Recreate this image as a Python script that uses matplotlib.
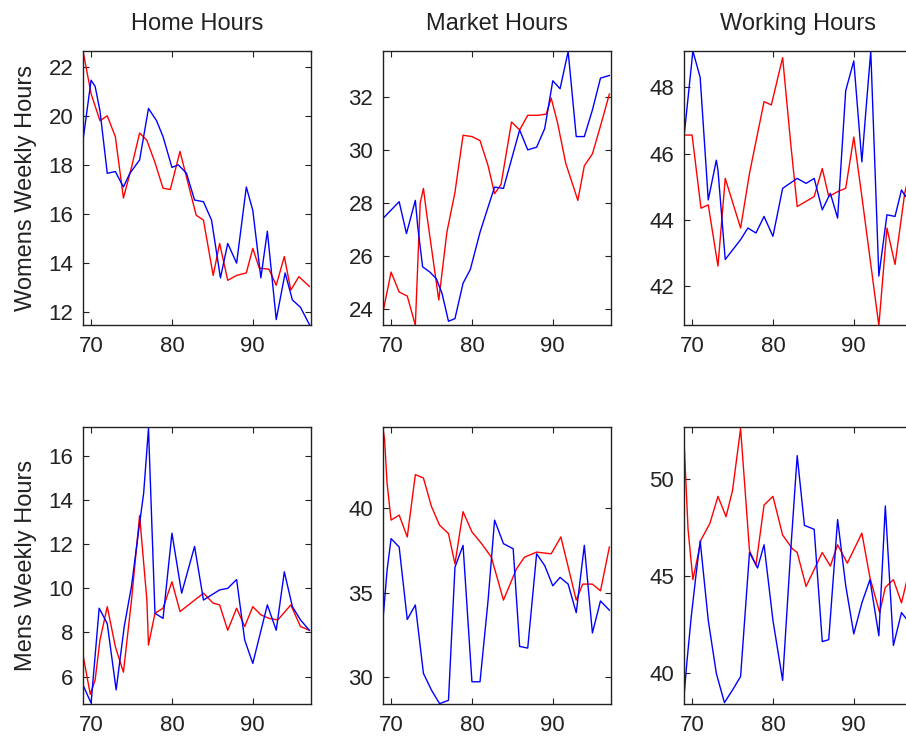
import matplotlib
matplotlib.use('Agg')
import matplotlib.pyplot as plt

plt.rcParams['font.family'] = ['Liberation Sans', 'DejaVu Sans']
plt.rcParams['font.size'] = 16

titles = ['Home Hours', 'Market Hours', 'Working Hours']
row_labels = ['Womens Weekly Hours', 'Mens Weekly Hours']

# women - home
w_home_red_x = [69, 70, 71.1, 72, 73, 74, 75, 76, 76.9, 77.9, 78.9, 79.8, 81, 81.8, 83, 83.9, 85.1, 85.9, 86.9, 88, 89.2, 90, 90.8, 92, 92.9, 93.9, 94.7, 95.7, 97]
w_home_red_y = [22.65, 20.9, 19.8, 20.0, 19.15, 16.65, 17.9, 19.3, 19.0, 18.1, 17.05, 17.0, 18.55, 17.5, 15.95, 15.75, 13.5, 14.8, 13.3, 13.5, 13.6, 14.6, 13.8, 13.75, 13.1, 14.27, 12.9, 13.45, 13.05]
w_home_blue_x = [69, 70, 70.5, 71.1, 72, 73, 74, 74.8, 76, 77.1, 78.1, 78.9, 80, 80.8, 81.8, 82.8, 83.9, 84.9, 86, 86.9, 88, 89.2, 90, 91, 91.8, 92.9, 94, 94.9, 95.9, 97]
w_home_blue_y = [19.0, 21.45, 21.2, 20.2, 17.66, 17.73, 17.1, 17.66, 18.2, 20.3, 19.8, 19.15, 17.9, 18.0, 17.66, 16.57, 16.5, 15.75, 13.4, 14.8, 14.0, 17.1, 16.15, 13.4, 15.3, 11.7, 13.6, 12.5, 12.2, 11.5]

# women - market
w_mkt_red_x = [69, 70, 71, 72, 73, 73.6, 74, 74.4, 75.9, 76.9, 77.9, 78.9, 80, 81, 82, 82.8, 83.6, 84.9, 85.9, 86.9, 88.2, 89.2, 89.8, 90.6, 91.6, 93.1, 93.9, 94.9, 95.9, 97]
w_mkt_red_y = [23.9, 25.4, 24.65, 24.5, 23.4, 28.0, 28.55, 27.6, 24.35, 26.9, 28.4, 30.55, 30.5, 30.35, 29.4, 28.35, 28.7, 31.05, 30.75, 31.3, 31.3, 31.35, 31.95, 31.0, 29.5, 28.1, 29.4, 29.85, 30.9, 32.1]
w_mkt_blue_x = [69, 71, 71.9, 73, 73.3, 73.9, 74.8, 75.6, 76.3, 77.1, 77.9, 78.9, 79.8, 81, 82, 82.8, 83.9, 85.9, 86.9, 88, 89, 90, 90.9, 91.9, 92.9, 93.9, 94.9, 95.9, 97]
w_mkt_blue_y = [27.42, 28.05, 26.85, 28.1, 27.1, 25.6, 25.4, 25.15, 24.6, 23.55, 23.65, 24.98, 25.5, 26.9, 27.85, 28.6, 28.55, 30.75, 30.0, 30.1, 30.8, 32.6, 32.3, 33.7, 30.5, 30.5, 31.5, 32.7, 32.8]

# women - working
w_work_red_x = [69, 70, 71.1, 72, 73.2, 74.1, 76, 77.1, 78.9, 79.8, 81.2, 82.2, 83, 85.1, 86.1, 86.9, 88, 89, 90, 91, 93.1, 94.1, 95.1, 96.3, 97]
w_work_red_y = [46.56, 46.56, 44.35, 44.45, 42.6, 45.25, 43.75, 45.4, 47.57, 47.47, 48.9, 46.3, 44.4, 44.7, 45.55, 44.7, 44.85, 44.95, 46.5, 44.7, 40.8, 43.75, 42.65, 44.8, 45.5]
w_work_blue_x = [69, 70.1, 71, 72, 73, 73.2, 74.1, 76, 76.9, 77.9, 78.9, 80, 81.2, 83, 84.1, 85.1, 86.1, 87.1, 88, 89, 90, 91, 91.4, 92.1, 93.1, 94.1, 95.1, 95.9, 96.4, 97]
w_work_blue_y = [46.5, 49.1, 48.3, 44.6, 45.8, 45.5, 42.8, 43.4, 43.75, 43.6, 44.1, 43.5, 44.95, 45.25, 45.1, 45.25, 44.3, 44.8, 44.05, 47.9, 48.8, 45.75, 47.0, 49.1, 42.3, 44.15, 44.1, 44.9, 44.7, 45.0]

# men - home
m_home_red_x = [69, 69.9, 70.5, 71.1, 72, 73, 74, 75, 76, 76.9, 77.1, 77.9, 78.9, 80, 81, 83.9, 85.1, 85.9, 86.9, 88, 89, 90, 91, 92, 93.1, 94.7, 95.9, 97]
m_home_red_y = [6.98, 5.2, 5.85, 7.66, 9.17, 7.36, 6.2, 9.47, 13.3, 9.47, 7.43, 8.87, 9.1, 10.3, 8.95, 9.78, 9.33, 9.25, 8.1, 9.1, 8.27, 9.17, 8.8, 8.64, 8.57, 9.25, 8.27, 8.1]
m_home_blue_x = [69, 70, 71, 72, 73.1, 74.1, 75, 76, 76.5, 77.1, 77.9, 78.9, 80, 81.2, 82.8, 83.9, 85.9, 86.9, 88, 89, 90, 91.8, 92.9, 93.9, 94.9, 95.9, 97]
m_home_blue_y = [5.62, 4.8, 9.1, 8.4, 5.4, 8.27, 10.1, 12.95, 14.3, 17.25, 8.87, 8.64, 12.5, 9.78, 11.9, 9.47, 9.93, 10.0, 10.4, 7.66, 6.6, 9.25, 8.1, 10.75, 9.17, 8.57, 8.1]

# men - market
m_mkt_red_x = [69, 69.2, 69.5, 70, 71, 72, 73, 74, 75, 76, 77.1, 77.9, 78.9, 80, 81.2, 82.4, 83.9, 85.5, 86.5, 88, 89.8, 91, 92.9, 93.7, 94.9, 95.9, 97]
m_mkt_red_y = [44.75, 44.06, 41.5, 39.3, 39.6, 38.3, 42.0, 41.8, 40.1, 39.0, 38.5, 36.7, 39.8, 38.6, 37.9, 37.1, 34.55, 36.4, 37.1, 37.4, 37.3, 38.3, 34.55, 35.5, 35.5, 35.1, 37.7]
m_mkt_blue_x = [69, 69.5, 70, 71, 72, 73, 74, 75, 76, 77.1, 77.9, 78.9, 80, 81, 82, 82.8, 83.9, 85.1, 85.9, 86.9, 88, 89, 90, 90.9, 91.9, 92.9, 93.9, 94.9, 95.9, 97]
m_mkt_blue_y = [33.4, 36.3, 38.2, 37.7, 33.4, 34.26, 30.2, 29.2, 28.4, 28.6, 36.5, 37.8, 29.7, 29.7, 34.55, 39.3, 37.9, 37.6, 31.8, 31.7, 37.3, 36.6, 35.4, 35.9, 35.5, 33.8, 37.8, 32.6, 34.5, 33.95]

# men - working
m_work_red_x = [69, 69.5, 70.1, 70.7, 71.1, 72.2, 73.2, 74.2, 75, 76, 77.1, 77.9, 78.9, 80, 81.2, 82.4, 83, 84.1, 86.1, 87.1, 88, 89.2, 91, 92, 93.2, 93.9, 94.9, 95.9, 97]
m_work_red_y = [52.0, 47.4, 44.8, 46.0, 46.85, 47.7, 49.1, 48.05, 49.4, 52.6, 46.3, 45.55, 48.65, 49.1, 47.1, 46.4, 46.2, 44.45, 46.2, 45.5, 46.6, 45.65, 47.2, 44.9, 43.1, 44.4, 44.8, 43.6, 45.5]
m_work_blue_x = [69, 69.35, 69.9, 70.5, 71, 72, 73, 74, 75, 76, 77.1, 78.1, 78.9, 80, 81.2, 82.2, 83, 83.9, 85.1, 86.1, 86.9, 88, 89, 90, 91, 92, 93.1, 93.9, 94.9, 95.9, 97]
m_work_blue_y = [38.76, 40.5, 42.9, 45.1, 46.8, 42.7, 39.96, 38.45, 39.1, 39.8, 46.2, 45.4, 46.6, 42.7, 39.6, 46.3, 51.2, 47.6, 47.4, 41.6, 41.7, 47.9, 44.5, 42.0, 43.6, 44.8, 41.9, 48.6, 41.4, 43.1, 42.5]

ylims = [[(11.48, 22.64), (23.41, 33.72), (40.82, 49.1)],
         [(4.76, 17.31), (28.38, 44.83), (38.38, 52.68)]]
yticks = [[[12, 14, 16, 18, 20, 22], [24, 26, 28, 30, 32], [42, 44, 46, 48]],
          [[6, 8, 10, 12, 14, 16], [30, 35, 40], [40, 45, 50]]]

series = [[(w_home_red_x, w_home_red_y, w_home_blue_x, w_home_blue_y),
           (w_mkt_red_x, w_mkt_red_y, w_mkt_blue_x, w_mkt_blue_y),
           (w_work_red_x, w_work_red_y, w_work_blue_x, w_work_blue_y)],
          [(m_home_red_x, m_home_red_y, m_home_blue_x, m_home_blue_y),
           (m_mkt_red_x, m_mkt_red_y, m_mkt_blue_x, m_mkt_blue_y),
           (m_work_red_x, m_work_red_y, m_work_blue_x, m_work_blue_y)]]

W, H = 906, 740
fig = plt.figure(figsize=(W / 100, H / 100), dpi=100)

col_left = [83, 383, 684]
row_top = [51, 427]
row_bottom = [325, 704]
ax_w = 228

for r in range(2):
    for c in range(3):
        left = col_left[c] / W
        bottom = 1 - row_bottom[r] / H
        height = (row_bottom[r] - row_top[r]) / H
        ax = fig.add_axes([left, bottom, ax_w / W, height])
        rx, ry, bx, by = series[r][c]
        ax.plot(rx, ry, color='red', lw=1.0)
        ax.plot(bx, by, color='blue', lw=1.0)
        ax.set_xlim(69, 97.2)
        ax.set_ylim(*ylims[r][c])
        ax.set_xticks([70, 80, 90])
        ax.set_yticks(yticks[r][c])
        ax.tick_params(direction='in', top=True, right=True, length=4, width=0.8,
                       colors='#222222', labelsize=16)
        ax.tick_params(axis='x', pad=8)
        ax.tick_params(axis='y', pad=7)
        for sp in ax.spines.values():
            sp.set_linewidth(1.0)
            sp.set_color('#222222')
        if r == 0:
            ax.set_title(titles[c], pad=15, fontsize=17, color='#222222')
        if c == 0:
            ax.set_ylabel(row_labels[r], fontsize=17, color='#222222')
            ax.yaxis.set_label_coords(-0.2, 0.5)

fig.savefig('out.png', dpi=100)
